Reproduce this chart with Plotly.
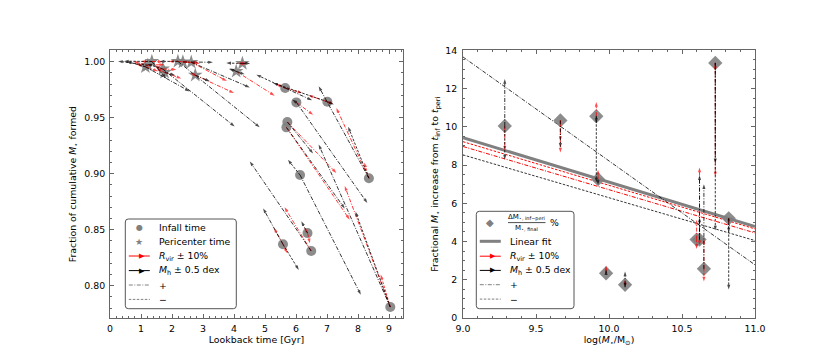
import plotly.graph_objects as go

# ---------------- Left panel data ----------------
infall_t = [5.65, 6.01, 7.01, 8.35, 5.72, 5.69, 9.04, 6.13, 6.37, 5.58, 6.49]
infall_f = [0.9765, 0.9637, 0.9643, 0.8960, 0.9462, 0.9414, 0.7810, 0.8988, 0.8470, 0.8370, 0.8310]

inf_rvir_plus_t = [6.20, 6.55, 6.40, 7.30, 7.30, 7.73, 7.57, None, 6.45, 5.29, 5.63]
inf_rvir_plus_f = [0.9720, 0.9527, 0.9700, 0.9587, 0.9006, 0.8590, 0.8890, None, 0.8380, 0.8515, 0.8700]
inf_rvir_minus_t = [5.35, None, 7.20, 8.20, None, None, 8.73, None, 6.27, 5.72, None]
inf_rvir_minus_f = [0.9800, None, 0.9625, 0.9100, None, None, 0.8100, None, 0.8520, 0.8290, None]
inf_mh_plus_t = [6.52, 8.30, 7.22, 6.73, 6.55, 7.57, 6.73, 8.09, None, 4.94, 4.51]
inf_mh_plus_f = [0.9655, 0.8738, 0.9618, 0.9780, 0.9180, 0.8690, 0.9260, 0.7920, None, 0.8690, 0.9110]
inf_mh_minus_t = [4.72, 5.88, 5.26, 7.68, None, None, 7.92, 5.74, 6.17, 6.09, None]
inf_mh_minus_f = [0.9884, 0.9660, 0.9810, 0.9420, None, None, 0.8660, 0.9125, 0.8575, 0.8140, None]

peri_t = [1.14, 1.22, 1.35, 1.70, 1.76, 2.19, 2.62, 2.75, 4.07, 4.27, 2.35]
peri_f = [0.9955, 0.9968, 1.0002, 0.9935, 0.9905, 1.0003, 0.9995, 0.9880, 0.9914, 0.9985, 0.9998]

peri_rvir_plus_t = [1.55, 1.75, 1.70, 2.14, 2.30, 2.90, 3.77, 4.00, 5.31, 4.42, 2.85]
peri_rvir_plus_f = [0.9915, 0.9975, 1.0000, 0.9930, 0.9850, 0.9985, 0.9828, 0.9720, 0.9697, 0.9985, 0.9992]
peri_rvir_minus_t = [0.85, 0.75, 1.00, 1.45, 1.50, 1.90, 2.30, 2.60, None, 4.12, None]
peri_rvir_minus_f = [0.9980, 1.0002, 1.0003, 0.9960, 0.9940, 1.0003, 1.0000, 0.9900, None, 0.9985, None]
peri_mh_plus_t = [2.57, None, 1.82, 4.02, 2.10, 4.83, 4.51, 3.22, 4.34, 4.52, 3.32]
peri_mh_plus_f = [0.9735, None, 0.9848, 0.9422, 0.9880, 0.9414, 0.9770, 0.9825, 0.9887, 0.9985, 0.9995]
peri_mh_minus_t = [0.53, 0.26, 0.45, 1.20, None, 1.60, None, None, 3.85, 3.75, None]
peri_mh_minus_f = [1.0003, 1.0005, 1.0005, 0.9980, None, 1.0003, None, None, 0.9940, 0.9988, None]

# ---------------- Right panel data ----------------
log_mstar = [9.286, 9.667, 9.913, 9.925, 9.98, 10.11, 10.60, 10.62, 10.65, 10.728, 10.82]
dm_pct = [10.04, 10.33, 10.55, 7.26, 2.34, 1.74, 4.10, 4.10, 2.57, 13.34, 5.21]
dm_rvir_plus = [8.74, 9.26, 11.29, 7.75, 2.75, 2.00, 5.14, 7.87, 4.13, 7.40, 4.90]
dm_rvir_minus = [None, 8.65, None, None, None, None, 3.61, 3.80, 1.91, 12.90, None]
dm_mh_plus = [12.50, 8.90, 10.20, None, 2.50, 2.43, None, 7.47, 7.00, 8.09, 4.47]
dm_mh_minus = [8.27, None, 7.09, 6.95, None, 1.60, None, 5.26, None, 4.57, 1.49]

fit_x = [9.0, 11.0]
fit_y = [9.43, 4.78]
fit_rvir_plus_y = [8.97, 4.45]
fit_rvir_minus_y = [9.22, 4.66]
fit_mh_plus_y = [13.65, 2.78]
fit_mh_minus_y = [8.53, 4.05]

# legend texts
left_legend_labels = ["Infall time", "Pericenter time", "<i>R</i><sub>vir</sub> ± 10%",
                      "<i>M</i><sub>h</sub> ± 0.5 dex", "+", "−"]
right_legend_labels = ["", "Linear fit", "<i>R</i><sub>vir</sub> ± 10%",
                       "<i>M</i><sub>h</sub> ± 0.5 dex", "+", "−"]

GRAY = "#808080"
FONT = "DejaVu Sans"
FS = 9.4
LFS = 9.3
DASHED = "2.5px,1.5px"
DASHDOT = "4px,1.5px,1px,1.5px"
W, H = 830, 356

fig = go.Figure()


def add_arrow(x0, y0, x1, y1, color, dash, xa, ya, width=0.8):
    if x1 is None or y1 is None:
        return
    fig.add_trace(go.Scatter(
        x=[x0, x1], y=[y0, y1], mode="lines+markers",
        line=dict(color=color, width=width, dash=dash),
        marker=dict(symbol="arrow", angleref="previous", size=[0, 5],
                    color=color, line=dict(width=0)),
        xaxis=xa, yaxis=ya, showlegend=False, hoverinfo="skip"))


# ---- left panel markers ----
fig.add_trace(go.Scatter(x=infall_t, y=infall_f, mode="markers",
                         marker=dict(symbol="circle", size=10, color=GRAY, opacity=0.9),
                         xaxis="x", yaxis="y", showlegend=False))
fig.add_trace(go.Scatter(x=peri_t, y=peri_f, mode="markers",
                         marker=dict(symbol="star", size=11, color=GRAY, opacity=0.9),
                         xaxis="x", yaxis="y", showlegend=False))

# ---- left panel arrows ----
for pts_t, pts_f, sets in [
    (infall_t, infall_f, [(inf_rvir_plus_t, inf_rvir_plus_f, "red", DASHDOT),
                          (inf_rvir_minus_t, inf_rvir_minus_f, "red", DASHED),
                          (inf_mh_plus_t, inf_mh_plus_f, "black", DASHDOT),
                          (inf_mh_minus_t, inf_mh_minus_f, "black", DASHED)]),
    (peri_t, peri_f, [(peri_rvir_plus_t, peri_rvir_plus_f, "red", DASHDOT),
                      (peri_rvir_minus_t, peri_rvir_minus_f, "red", DASHED),
                      (peri_mh_plus_t, peri_mh_plus_f, "black", DASHDOT),
                      (peri_mh_minus_t, peri_mh_minus_f, "black", DASHED)]),
]:
    for et, ef, col, dash in sets:
        for i in range(len(pts_t)):
            add_arrow(pts_t[i], pts_f[i], et[i], ef[i], col, dash, "x", "y")

# ---- right panel lines ----
fig.add_trace(go.Scatter(x=fit_x, y=fit_y, mode="lines", line=dict(color=GRAY, width=3),
                         xaxis="x2", yaxis="y2", showlegend=False))
fig.add_trace(go.Scatter(x=fit_x, y=fit_rvir_minus_y, mode="lines", line=dict(color="red", width=1, dash=DASHED),
                         xaxis="x2", yaxis="y2", showlegend=False))
fig.add_trace(go.Scatter(x=fit_x, y=fit_rvir_plus_y, mode="lines", line=dict(color="red", width=1, dash=DASHDOT),
                         xaxis="x2", yaxis="y2", showlegend=False))
fig.add_trace(go.Scatter(x=fit_x, y=fit_mh_plus_y, mode="lines", line=dict(color="black", width=0.8, dash=DASHDOT),
                         xaxis="x2", yaxis="y2", showlegend=False))
fig.add_trace(go.Scatter(x=fit_x, y=fit_mh_minus_y, mode="lines", line=dict(color="black", width=0.8, dash=DASHED),
                         xaxis="x2", yaxis="y2", showlegend=False))

fig.add_trace(go.Scatter(x=log_mstar, y=dm_pct, mode="markers",
                         marker=dict(symbol="diamond", size=11, color=GRAY, opacity=0.9),
                         xaxis="x2", yaxis="y2", showlegend=False))

for ev, col, dash in [(dm_rvir_plus, "red", DASHDOT), (dm_rvir_minus, "red", DASHED),
                      (dm_mh_plus, "black", DASHDOT), (dm_mh_minus, "black", DASHED)]:
    for i in range(len(log_mstar)):
        add_arrow(log_mstar[i], dm_pct[i], log_mstar[i], ev[i], col, dash, "x2", "y2")

# ---------------- custom legends (layout elements in paper coords) ----------------
shapes = []
annotations = []


def PX(px):
    return px / W


def PY(py):
    return 1 - py / H


def rounded_box(x0, y0, x1, y1, r=3):
    path = (f"M {PX(x0 + r)},{PY(y0)} L {PX(x1 - r)},{PY(y0)} Q {PX(x1)},{PY(y0)} {PX(x1)},{PY(y0 + r)} "
            f"L {PX(x1)},{PY(y1 - r)} Q {PX(x1)},{PY(y1)} {PX(x1 - r)},{PY(y1)} "
            f"L {PX(x0 + r)},{PY(y1)} Q {PX(x0)},{PY(y1)} {PX(x0)},{PY(y1 - r)} "
            f"L {PX(x0)},{PY(y0 + r)} Q {PX(x0)},{PY(y0)} {PX(x0 + r)},{PY(y0)} Z")
    shapes.append(dict(type="path", xref="paper", yref="paper", path=path,
                       fillcolor="white", line=dict(color="#555555", width=1), layer="above"))


def hline(x0, x1, y, color, width, dash="solid"):
    shapes.append(dict(type="line", xref="paper", yref="paper", x0=PX(x0), x1=PX(x1), y0=PY(y), y1=PY(y),
                       line=dict(color=color, width=width, dash=dash), layer="above"))


def text(x, y, s, size=LFS, color="black", xanchor="left"):
    annotations.append(dict(x=PX(x), y=PY(y), xref="paper", yref="paper", text=s, showarrow=False,
                            xanchor=xanchor, yanchor="middle", font=dict(family=FONT, size=size, color=color)))


def build_legend(x0, y0, x1, y1, row_y, labels, kinds):
    rounded_box(x0, y0, x1, y1)
    hx0, hx1 = x0 + 3.5, x0 + 24.5
    hmid = (hx0 + hx1) / 2
    tx = x0 + 31.5
    for yy, lab, kind in zip(row_y, labels, kinds):
        if kind == "circle":
            text(hmid, yy, "●", size=8, color=GRAY, xanchor="center")
        elif kind == "star":
            text(hmid, yy, "★", size=9, color=GRAY, xanchor="center")
        elif kind == "diamond":
            text(hmid, yy, "◆", size=10, color=GRAY, xanchor="center")
        elif kind == "fit":
            hline(hx0, hx1, yy, GRAY, 3)
        elif kind in ("red", "black"):
            hline(hx0, hx1, yy, kind, 1)
            text(hmid + 3, yy, "▶", size=7, color=kind, xanchor="center")
        elif kind == "plus":
            hline(hx0, hx1, yy, GRAY, 1, DASHDOT)
        elif kind == "minus":
            hline(hx0, hx1, yy, GRAY, 1, DASHED)
        if lab:
            text(tx, yy, lab)


kinds_left = ["circle", "star", "red", "black", "plus", "minus"]
build_legend(117.3, 211, 228.3, 300.7, [219, 233.5, 248, 262.6, 277, 291.4], left_legend_labels, kinds_left)

kinds_right = ["diamond", "fit", "red", "black", "plus", "minus"]
build_legend(468.3, 203.3, 566, 300.7, [214.5, 233.3, 248.2, 262.4, 276.7, 291.1], right_legend_labels, kinds_right)
# fraction label of the first right-legend entry
text(518.5, 209.3, "ΔM<sub>⋆, inf−peri</sub>", size=7, xanchor="center")
shapes.append(dict(type="line", xref="paper", yref="paper", x0=PX(500), x1=PX(537.5), y0=PY(214.6), y1=PY(214.6),
                   line=dict(color="black", width=0.7), layer="above"))
text(518.5, 220.3, "M<sub>⋆, final</sub>", size=7, xanchor="center")
text(540, 214.5, "%", size=LFS)

AX = dict(showline=True, linecolor="#666666", linewidth=1, mirror="allticks", ticks="inside",
          ticklen=4, tickwidth=0.8, tickcolor="#666666", showgrid=False, zeroline=False,
          tickfont=dict(family=FONT, size=FS, color="black"), automargin=False)

fig.update_layout(
    width=W, height=H, margin=dict(l=0, r=0, t=0, b=0),
    paper_bgcolor="white", plot_bgcolor="white", showlegend=False,
    font=dict(family=FONT, size=FS, color="black"),
    xaxis=dict(AX, domain=[0.1229, 0.4759], range=[0, 9.45], dtick=1, tick0=0,
               ticklabelstandoff=2,
               minor=dict(ticks="inside", ticklen=2, dtick=0.2, tickcolor="#666666"),
               title=dict(text="Lookback time [Gyr]", font=dict(size=FS), standoff=3)),
    yaxis=dict(AX, domain=[0.1292, 0.8812], range=[0.7712, 1.0102], dtick=0.05, tick0=0,
               tickformat=".2f", ticklabelstandoff=2,
               minor=dict(ticks="inside", ticklen=2, dtick=0.01, tickcolor="#666666"),
               title=dict(text="Fraction of cumulative <i>M</i><sub>⋆</sub> formed", font=dict(size=FS), standoff=5)),
    xaxis2=dict(AX, domain=[0.5482, 0.9000], range=[9.0, 11.0], dtick=0.5, tick0=9.0,
                tickformat=".1f", anchor="y2", ticklabelstandoff=2,
                minor=dict(ticks="inside", ticklen=2, dtick=0.1, tickcolor="#666666"),
                title=dict(text="log(<i>M</i><sub>⋆</sub>/M<sub>⊙</sub>)", font=dict(size=FS), standoff=3)),
    yaxis2=dict(AX, domain=[0.1292, 0.8812], range=[0, 14], dtick=2, tick0=0, anchor="x2",
                ticklabelstandoff=3,
                minor=dict(ticks="inside", ticklen=2, dtick=0.5, tickcolor="#666666"),
                title=dict(text="Fractional <i>M</i><sub>⋆</sub> increase from <i>t</i><sub>inf</sub> to <i>t</i><sub>peri</sub>",
                           font=dict(size=FS), standoff=4)),
    shapes=shapes,
    annotations=annotations,
)

fig.write_html("out.html")
